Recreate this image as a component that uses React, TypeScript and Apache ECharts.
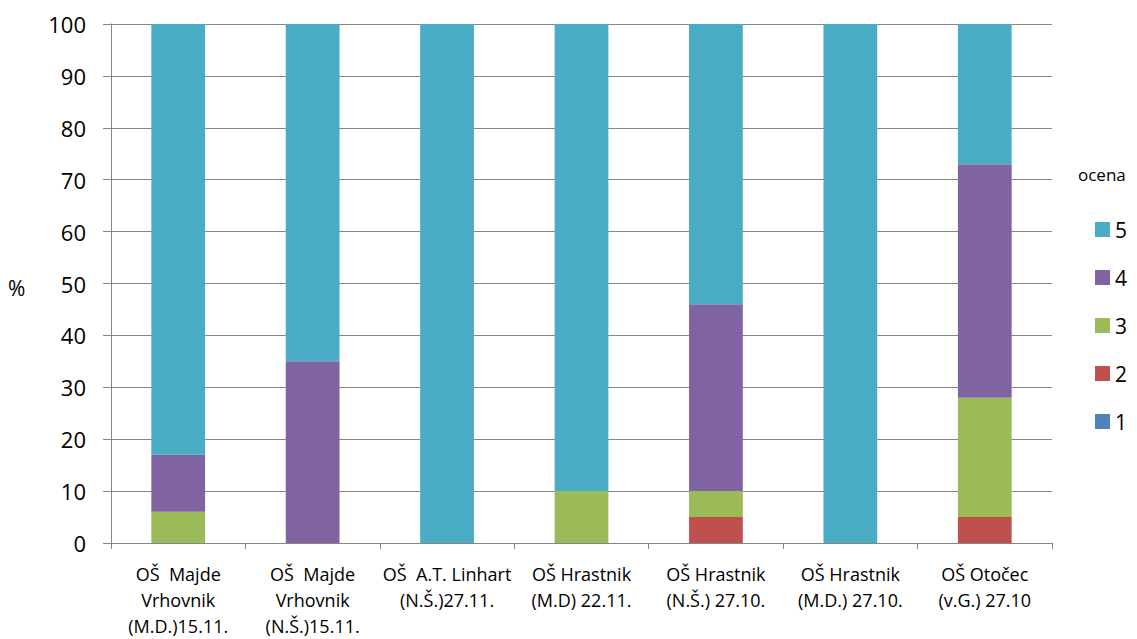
import React, { useEffect, useRef } from "react";
import * as echarts from "echarts";

const categories = [
  "OŠ  Majde\nVrhovnik\n(M.D.)15.11.",
  "OŠ  Majde\nVrhovnik\n(N.Š.)15.11.",
  "OŠ  A.T. Linhart\n(N.Š.)27.11.",
  "OŠ Hrastnik\n(M.D) 22.11.",
  "OŠ Hrastnik\n(N.Š.) 27.10.",
  "OŠ Hrastnik\n(M.D.) 27.10.",
  "OŠ Otočec\n(v.G.) 27.10",
];
const grade1 = [0, 0, 0, 0, 0, 0, 0];
const grade2 = [0, 0, 0, 0, 5, 0, 5];
const grade3 = [6, 0, 0, 10, 5, 0, 23];
const grade4 = [11, 35, 0, 0, 36, 0, 45];
const grade5 = [83, 65, 100, 90, 54, 100, 27];
const seriesNames = ["1", "2", "3", "4", "5"];
const seriesColors = ["#4F81BD", "#C0504D", "#9BBB59", "#8064A2", "#4BACC6"];
const yTicks = [0, 10, 20, 30, 40, 50, 60, 70, 80, 90, 100];

const FONT = "'Open Sans', 'Liberation Sans', sans-serif";

export default function App() {
  const ref = useRef<HTMLDivElement>(null);
  useEffect(() => {
    if (!ref.current) return;
    const chart = echarts.init(ref.current, undefined, { renderer: "svg" });
    const values = [grade1, grade2, grade3, grade4, grade5];
    chart.setOption({
      animation: false,
      backgroundColor: "#ffffff",
      grid: { left: 111, top: 24, width: 941, height: 524, containLabel: false },
      legend: {
        orient: "vertical",
        left: 1090,
        top: 214,
        data: ["5", "4", "3", "2", "1"],
        itemWidth: 15,
        itemHeight: 15,
        itemGap: 27,
        icon: "rect",
        textStyle: { fontSize: 21, color: "#000", fontFamily: FONT },
        selectedMode: false,
      },
      graphic: [
        {
          type: "text",
          left: 1078,
          top: 166,
          style: { text: "ocena", fontSize: 17, fill: "#000", fontFamily: FONT },
        },
        {
          type: "text",
          left: 8,
          top: 277,
          style: { text: "%", fontSize: 21, fill: "#000", fontFamily: FONT },
        },
      ],
      xAxis: {
        type: "category",
        data: categories,
        boundaryGap: true,
        axisLine: { lineStyle: { color: "#868686", width: 1 } },
        axisTick: { show: true, alignWithLabel: false, length: 6, lineStyle: { color: "#868686" } },
        axisLabel: {
          interval: 0,
          fontSize: 18,
          lineHeight: 26,
          color: "#000",
          fontFamily: FONT,
          margin: 18,
        },
      },
      yAxis: {
        type: "value",
        min: yTicks[0],
        max: yTicks[yTicks.length - 1],
        interval: 10,
        axisLine: { show: true, lineStyle: { color: "#868686", width: 1 } },
        axisTick: { show: true, length: 8, lineStyle: { color: "#868686" } },
        splitLine: { show: true, lineStyle: { color: "#868686", width: 1 } },
        axisLabel: { fontSize: 22, color: "#000", fontFamily: FONT, margin: 25 },
      },
      series: seriesNames.map((name, i) => ({
        name,
        type: "bar",
        stack: "total",
        barWidth: "40%",
        itemStyle: { color: seriesColors[i] },
        data: values[i],
      })),
    });
    return () => chart.dispose();
  }, []);
  return <div ref={ref} style={{ width: 1137, height: 639, position: "absolute", left: 0, top: 0 }} />;
}
